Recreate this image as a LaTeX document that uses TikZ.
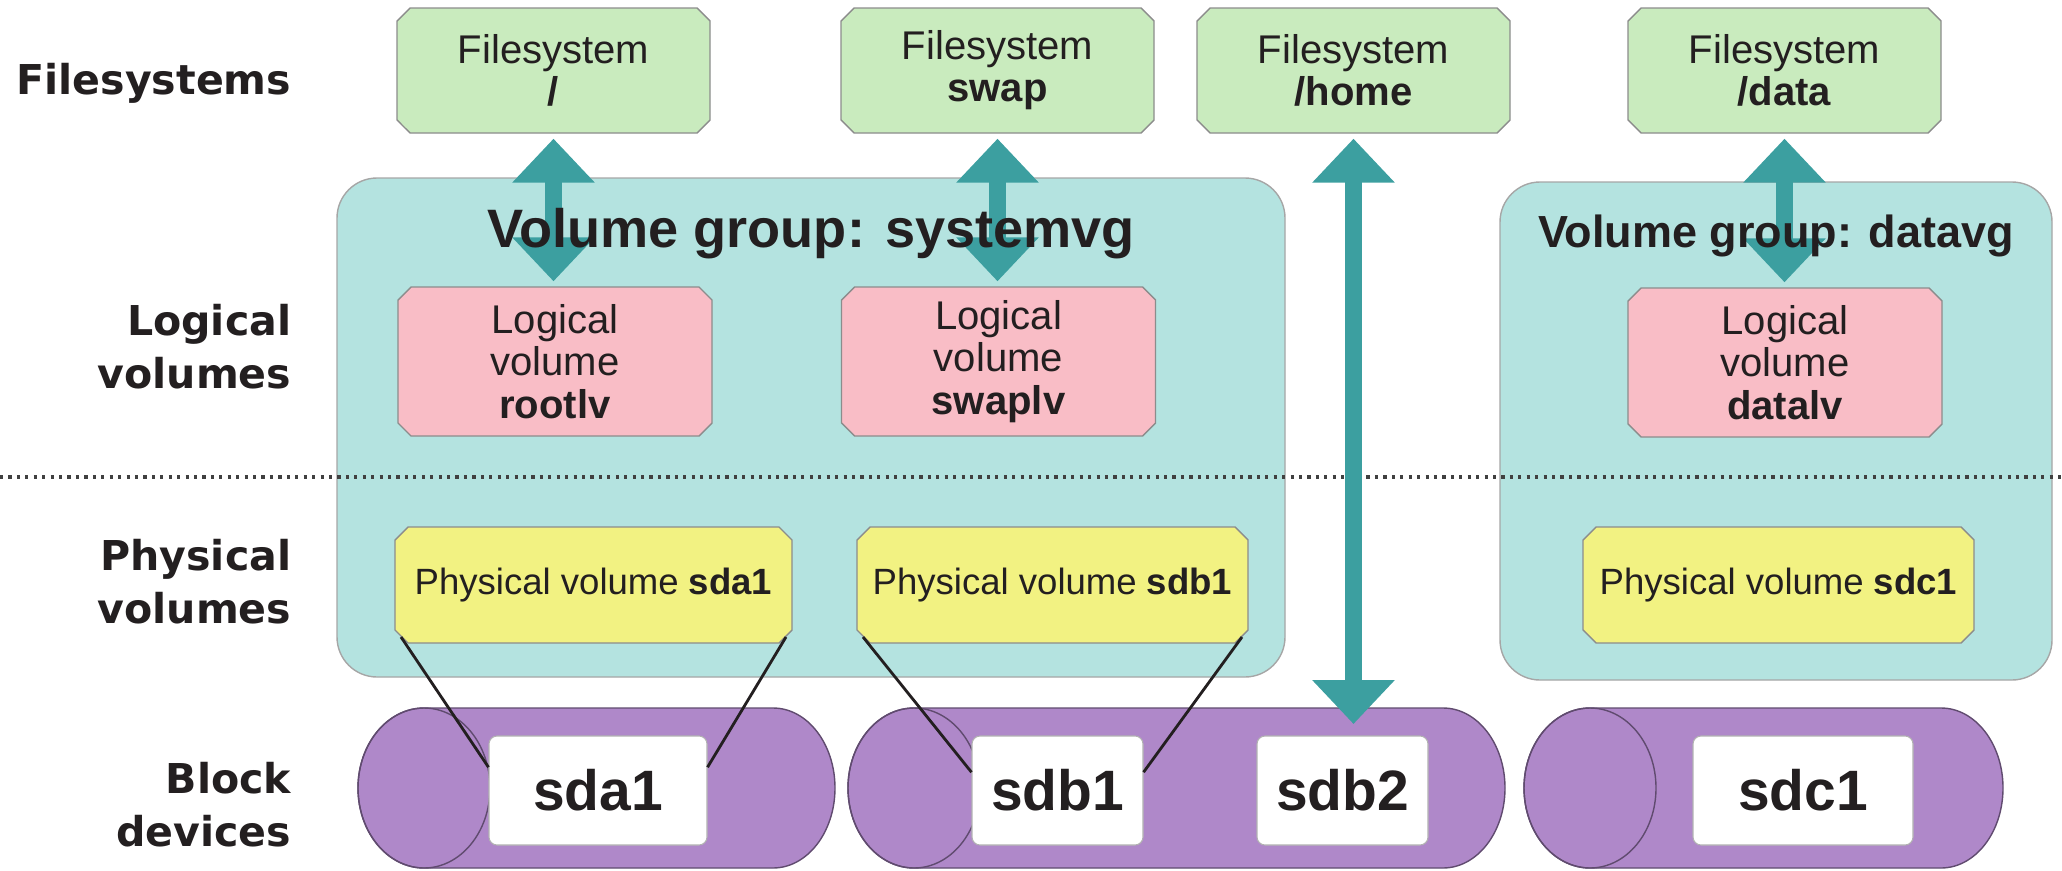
\documentclass[tikz,border=0pt]{standalone}
\usepackage{fontspec}
\setmainfont{Liberation Sans}
\newfontfamily\rowfont{DejaVu Sans}
\usepackage{tikz}
\usetikzlibrary{arrows.meta}
\usetikzlibrary{shapes.misc}
\definecolor{fsgreen}{HTML}{C9EBBE}
\definecolor{lvpink}{HTML}{F9BDC6}
\definecolor{pvyellow}{HTML}{F2F282}
\definecolor{vgteal}{HTML}{B4E3E0}
\definecolor{linkteal}{HTML}{3C9FA0}
\definecolor{devpurple}{HTML}{AF88C9}
\definecolor{ink}{HTML}{231F20}
\tikzset{chbox/.style={chamfered rectangle, chamfered rectangle xsep=0.65mm, chamfered rectangle ysep=0.65mm,
   draw=black!45, line width=0.4pt, inner sep=0pt, align=center, text=ink}}
\tikzset{fsbox/.style={chbox, fill=fsgreen, minimum width=31.3mm, minimum height=12.5mm,
   font=\fontsize{11.4pt}{12pt}\selectfont}}
\tikzset{lvbox/.style={chbox, fill=lvpink, minimum width=31.4mm, minimum height=14.9mm,
   font=\fontsize{11.4pt}{12pt}\selectfont}}
\tikzset{pvbox/.style={chbox, fill=pvyellow, minimum width=39.1mm, minimum height=11.6mm,
   font=\fontsize{10.4pt}{12pt}\selectfont}}
\tikzset{vgbox/.style={rectangle, rounded corners=4mm, fill=vgteal, draw=black!35, line width=0.4pt}}
\tikzset{vgtitle/.style={anchor=base, inner sep=0pt, text=ink}}
\tikzset{devbody/.style={fill=devpurple, draw=devpurple!55!black, line width=0.4pt}}
\tikzset{devbox/.style={rectangle, rounded corners=0.8mm, fill=white, draw=black!30, line width=0.3pt,
   minimum height=10.9mm, inner sep=0pt, text=ink, font=\fontsize{16.2pt}{18pt}\selectfont\bfseries}}
\tikzset{rowlabel/.style={align=right, anchor=east, inner sep=0pt, text=ink,
   font=\rowfont\bfseries\fontsize{11.7pt}{15.1pt}\selectfont}}
\tikzset{link/.style={draw=linkteal, line width=1.7mm,
   {Triangle[length=4.4mm,width=8mm]}-{Triangle[length=4.4mm,width=8mm]},
   shorten <=0.5mm, shorten >=0.5mm}}
\tikzset{pvlink/.style={draw=ink, line width=0.8pt}}

\begin{document}
\begin{tikzpicture}[x=0.1mm, y=-0.1mm]
  \useasboundingbox (0,0) rectangle (2062,871);

  \node[vgbox, minimum width=94.8mm, minimum height=49.9mm] (sysvg) at (811,427.5) {};
  \node[vgbox, minimum width=55.2mm, minimum height=49.8mm] (datavg) at (1776,431) {};

  \draw[black!75, line width=1pt, dash pattern=on 0.9pt off 1.5pt] (0,477) -- (2062,477);

  \node[rowlabel] (lblfs) at (292,83) {Filesystems};
  \node[rowlabel] (lbllv) at (292,347) {Logical\\volumes};
  \node[rowlabel] (lblpv) at (292,582) {Physical\\volumes};
  \node[rowlabel] (lblbd) at (292,805) {Block\\devices};

  \foreach \xl/\xr in {424/773, 914/1443, 1590/1941}{
    \filldraw[devbody] (\xl,708) -- (\xr,708) arc[start angle=90, end angle=-90, x radius=6.2mm, y radius=8mm]
      -- (\xl,868) arc[start angle=270, end angle=90, x radius=6.6mm, y radius=8mm] -- cycle;
    \draw[devbody, fill=none] (\xl,788) ellipse[x radius=6.6mm, y radius=8mm];
  }

  \node[fsbox] (fsroot) at (553.5,70.5) {Filesystem\\\textbf{/}};
  \node[fsbox] (fsswap) at (997.5,70.5) {Filesystem\\\textbf{swap}};
  \node[fsbox] (fshome) at (1353.5,70.5) {Filesystem\\\textbf{/home}};
  \node[fsbox] (fsdata) at (1784.5,70.5) {Filesystem\\\textbf{/data}};

  \node[lvbox] (lvroot) at (555,361.5) {Logical\\volume\\\textbf{rootlv}};
  \node[lvbox] (lvswap) at (998.5,361.5) {Logical\\volume\\\textbf{swaplv}};
  \node[lvbox] (lvdata) at (1785,362.5) {Logical\\volume\\\textbf{datalv}};

  \node[pvbox, minimum width=39.7mm] (pvsda) at (593.5,585) {Physical volume \textbf{sda1}};
  \node[pvbox] (pvsdb) at (1052.5,585) {Physical volume \textbf{sdb1}};
  \node[pvbox] (pvsdc) at (1778.5,585) {Physical volume \textbf{sdc1}};

  \node[devbox, minimum width=21.8mm] (sda1) at (598,790.5) {sda1};
  \node[devbox, minimum width=17.1mm] (sdb1) at (1057.5,790.5) {sdb1};
  \node[devbox, minimum width=17.1mm] (sdb2) at (1342.5,790.5) {sdb2};
  \node[devbox, minimum width=22mm] (sdc1) at (1803,790.5) {sdc1};

  \draw[pvlink] (pvsda.south west) -- (sda1.168);
  \draw[pvlink] (pvsda.south east) -- (sda1.12);
  \draw[pvlink] (pvsdb.south west) -- (sdb1.168);
  \draw[pvlink] (pvsdb.south east) -- (sdb1.12);

  \coordinate (homeend) at (1353.5,729);
  \draw[link] (fsroot.south) -- (fsroot.south |- lvroot.north);
  \draw[link] (fsswap.south) -- (fsswap.south |- lvswap.north);
  \draw[link] (fsdata.south) -- (fsdata.south |- lvdata.north);
  \draw[link] (fshome.south) -- (homeend);

  \node[vgtitle, font=\fontsize{15.4pt}{18pt}\selectfont\bfseries] (systitle) at (811,247) {Volume group: systemvg};
  \node[vgtitle, font=\fontsize{12.8pt}{15pt}\selectfont\bfseries] (datatitle) at (1776,247) {Volume group: datavg};
\end{tikzpicture}
\end{document}
